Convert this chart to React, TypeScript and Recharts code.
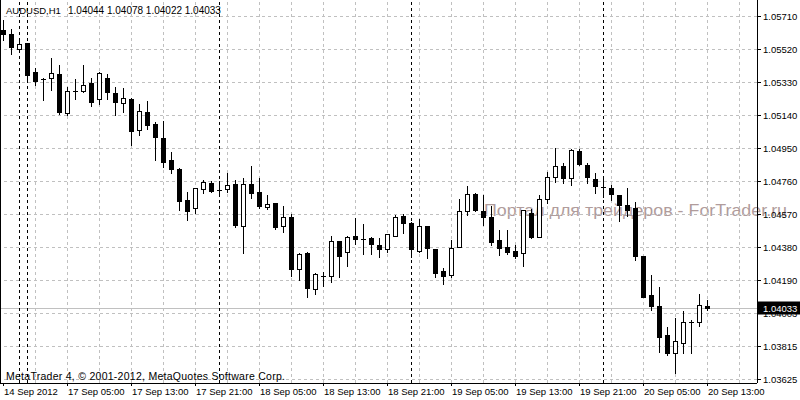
import React from 'react';
import { ComposedChart, Bar, XAxis, YAxis, ReferenceLine } from 'recharts';

// ---- data (AUDUSD H1) ----
const opens: number[] = [
  1.05631, 1.05608, 1.05522, 1.05554, 1.05390, 1.05350, 1.05356, 1.05379, 1.05155, 1.05278,
  1.05281, 1.05327, 1.05235, 1.05356, 1.05269, 1.05212, 1.05235, 1.05057, 1.05160, 1.05091,
  1.05011, 1.04885, 1.04833, 1.04655, 1.04609, 1.04718, 1.04753, 1.04715, 1.04718, 1.04747,
  1.04506, 1.04747, 1.04701, 1.04615, 1.04638, 1.04506, 1.04557, 1.04259, 1.04350, 1.04144,
  1.04218, 1.04218, 1.04419, 1.04356, 1.04448, 1.04431, 1.04437, 1.04396, 1.04373, 1.04448,
  1.04563, 1.04523, 1.04362, 1.04506, 1.04373, 1.04247, 1.04224, 1.04385, 1.04592, 1.04689,
  1.04592, 1.04557, 1.04425, 1.04385, 1.04362, 1.04350, 1.04580, 1.04442, 1.04661, 1.04787,
  1.04850, 1.04781, 1.04936, 1.04856, 1.04776, 1.04730, 1.04724, 1.04684, 1.04626, 1.04609,
  1.04333, 1.04109, 1.04046, 1.03879, 1.03776, 1.03834, 1.03952, 1.03954, 1.04044,
];
const highs: number[] = [
  1.05689, 1.05637, 1.05585, 1.05557, 1.05413, 1.05356, 1.05470, 1.05430, 1.05304, 1.05350,
  1.05430, 1.05356, 1.05390, 1.05379, 1.05304, 1.05298, 1.05241, 1.05206, 1.05223, 1.05103,
  1.05109, 1.04931, 1.04836, 1.04701, 1.04726, 1.04770, 1.04764, 1.04764, 1.04810, 1.04770,
  1.04781, 1.04850, 1.04781, 1.04684, 1.04640, 1.04620, 1.04574, 1.04350, 1.04356, 1.04236,
  1.04241, 1.04448, 1.04422, 1.04448, 1.04551, 1.04517, 1.04442, 1.04437, 1.04462, 1.04569,
  1.04574, 1.04526, 1.04546, 1.04508, 1.04376, 1.04264, 1.04425, 1.04661, 1.04735, 1.04695,
  1.04684, 1.04620, 1.04483, 1.04483, 1.04396, 1.04600, 1.04603, 1.04684, 1.04816, 1.04954,
  1.04867, 1.04945, 1.04948, 1.04867, 1.04810, 1.04787, 1.04741, 1.04686, 1.04724, 1.04643,
  1.04336, 1.04224, 1.04155, 1.03925, 1.03977, 1.04017, 1.03966, 1.04115, 1.04078,
];
const lows: number[] = [
  1.05574, 1.05493, 1.05505, 1.05338, 1.05315, 1.05229, 1.05287, 1.05149, 1.05143, 1.05235,
  1.05275, 1.05195, 1.05206, 1.05235, 1.05143, 1.05160, 1.04971, 1.05028, 1.05063, 1.04885,
  1.04844, 1.04810, 1.04597, 1.04540, 1.04580, 1.04695, 1.04701, 1.04695, 1.04701, 1.04500,
  1.04350, 1.04666, 1.04609, 1.04603, 1.04488, 1.04471, 1.04218, 1.04195, 1.04098, 1.04115,
  1.04161, 1.04184, 1.04213, 1.04276, 1.04402, 1.04345, 1.04345, 1.04327, 1.04356, 1.04446,
  1.04465, 1.04327, 1.04359, 1.04322, 1.04213, 1.04172, 1.04213, 1.04382, 1.04569, 1.04592,
  1.04511, 1.04396, 1.04339, 1.04345, 1.04322, 1.04276, 1.04437, 1.04440, 1.04638, 1.04758,
  1.04753, 1.04741, 1.04856, 1.04753, 1.04695, 1.04672, 1.04655, 1.04534, 1.04563, 1.04310,
  1.04096, 1.04023, 1.03782, 1.03765, 1.03661, 1.03776, 1.03776, 1.03931, 1.04022,
];
const closes: number[] = [
  1.05608, 1.05534, 1.05551, 1.05373, 1.05338, 1.05347, 1.05384, 1.05160, 1.05281, 1.05281,
  1.05315, 1.05218, 1.05384, 1.05275, 1.05218, 1.05241, 1.05051, 1.05166, 1.05086, 1.05017,
  1.04873, 1.04833, 1.04649, 1.04592, 1.04724, 1.04758, 1.04707, 1.04712, 1.04741, 1.04511,
  1.04747, 1.04695, 1.04620, 1.04632, 1.04500, 1.04557, 1.04259, 1.04345, 1.04149, 1.04230,
  1.04221, 1.04419, 1.04333, 1.04442, 1.04431, 1.04428, 1.04402, 1.04373, 1.04460, 1.04557,
  1.04523, 1.04373, 1.04506, 1.04379, 1.04236, 1.04218, 1.04379, 1.04592, 1.04689, 1.04597,
  1.04557, 1.04414, 1.04379, 1.04356, 1.04333, 1.04597, 1.04442, 1.04661, 1.04787, 1.04850,
  1.04781, 1.04942, 1.04862, 1.04787, 1.04735, 1.04727, 1.04689, 1.04626, 1.04597, 1.04333,
  1.04098, 1.04046, 1.03868, 1.03776, 1.03845, 1.03954, 1.03955, 1.04052, 1.04033,
];

const timeLabelIdx: number[] = [0, 8, 16, 24, 32, 40, 48, 56, 64, 72, 80, 88];
const timeLabels: string[] = [
  '14 Sep 2012', '17 Sep 05:00', '17 Sep 13:00', '17 Sep 21:00', '18 Sep 05:00', '18 Sep 13:00',
  '18 Sep 21:00', '19 Sep 05:00', '19 Sep 13:00', '19 Sep 21:00', '20 Sep 05:00', '20 Sep 13:00',
];
const gridIdx: number[] = [4, 8, 12, 16, 20, 24, 28, 32, 36, 40, 44, 48, 52, 56, 60, 64, 68, 72, 76, 80, 84, 88, 92];
const separatorIdx: number[] = [2, 3, 27, 51, 75];
const priceTicks: number[] = [
  1.05710, 1.05520, 1.05330, 1.05140, 1.04950, 1.04760, 1.04570, 1.04380, 1.04190, 1.04003, 1.03815, 1.03625,
];
const currentPrice = 1.04033;
const priceDomain: [number, number] = [1.036037, 1.058036];
const emptySlots = 5;

const rows = Array.from({ length: opens.length + emptySlots }, (_, i) =>
  i < opens.length
    ? { t: i, range: [lows[i], highs[i]], o: opens[i], h: highs[i], l: lows[i], c: closes[i] }
    : { t: i, range: null, o: null, h: null, l: null, c: null }
);

const FONT = 'Liberation Sans, Arial, sans-serif';

const Candle = (props: any) => {
  const { x, y, width, height, payload } = props;
  if (!payload || payload.o == null || !isFinite(height)) return null;
  const { o, h, l, c } = payload;
  const top = Math.min(y, y + height);
  const k = Math.abs(height) / (h - l);
  const py = (v: number) => top + (h - v) * k;
  const cx = Math.round(x + width / 2);
  const yH = Math.round(py(h));
  const yL = Math.round(py(l));
  const rawTop = py(Math.max(o, c));
  const rawBot = py(Math.min(o, c));
  const yBt = Math.round(rawTop);
  const yBb = Math.round(rawBot);
  const up = c > o;
  let body: React.ReactNode;
  if (rawBot - rawTop < 1) {
    body = <line x1={cx - 2} x2={cx + 3} y1={yBt + 0.5} y2={yBt + 0.5} stroke="#000" strokeWidth={1} />;
  } else if (up) {
    body = <rect x={cx - 1.5} y={yBt + 0.5} width={4} height={Math.max(1, yBb - yBt)} fill="#fff" stroke="#000" strokeWidth={1} />;
  } else {
    body = <rect x={cx - 2} y={yBt} width={5} height={Math.max(1, yBb - yBt + 1)} fill="#000" />;
  }
  return (
    <g>
      <line x1={cx + 0.5} x2={cx + 0.5} y1={yH} y2={yL + 1} stroke="#000" strokeWidth={1} />
      {body}
    </g>
  );
};

const NoShape = () => null;

const TimeTick = (props: any) => {
  const { x, y, payload } = props;
  const i = timeLabelIdx.indexOf(Number(payload.value));
  if (i < 0) return null;
  return (
    <text x={x + 1} y={y + 7} fontSize={9.5} fontFamily={FONT} fill="#000" textAnchor="start">
      {timeLabels[i]}
    </text>
  );
};

const PriceTick = (props: any) => {
  const { x, y, payload } = props;
  const v = Number(payload.value);
  if (v === currentPrice) {
    return (
      <g>
        <rect x={x - 5} y={Math.round(y) - 6.5} width={43} height={13} fill="#000" />
        <text x={x} y={y + 3.5} fontSize={9.5} fontFamily={FONT} fill="#fff" textAnchor="start">
          {v.toFixed(5)}
        </text>
      </g>
    );
  }
  return (
    <text x={x} y={y + 3.5} fontSize={9.5} fontFamily={FONT} fill="#000" textAnchor="start">
      {v.toFixed(5)}
    </text>
  );
};

const chartMargin = { top: 0, right: 0, bottom: 0, left: -1 };

function axes(visible: boolean) {
  const line = visible ? { stroke: '#000', shapeRendering: 'crispEdges' } : false;
  return [
    <XAxis
      key="x"
      dataKey="t"
      type="category"
      ticks={timeLabelIdx}
      interval={0}
      height={17}
      padding={{ left: 0, right: 6 }}
      tickSize={3}
      tickLine={line as any}
      axisLine={line as any}
      tick={visible ? <TimeTick /> : false}
    />,
    <YAxis
      key="y"
      orientation="right"
      type="number"
      width={43}
      domain={priceDomain}
      allowDataOverflow
      ticks={[...priceTicks, currentPrice]}
      interval={0}
      tickSize={4}
      tickLine={line as any}
      axisLine={line as any}
      tick={visible ? <PriceTick /> : false}
    />,
  ];
}

export default function App() {
  return (
    <div style={{ position: 'absolute', left: 0, top: 0, width: 800, height: 400, background: '#fff', overflow: 'hidden' }}>
      {/* watermark */}
      <svg width={800} height={400} style={{ position: 'absolute', left: 0, top: 0 }}>
        <text x={484} y={216} fontSize={17} fontFamily={FONT} fill="#b09c9c" textLength={303} lengthAdjust="spacingAndGlyphs">
          Портал для трейдеров - ForTrader.ru
        </text>
      </svg>
      {/* grid layer */}
      <div style={{ position: 'absolute', left: 0, top: 0 }}>
        <ComposedChart width={800} height={400} data={rows} margin={chartMargin}>
          {axes(false)}
          {priceTicks.map((p) => (
            <ReferenceLine key={'h' + p} y={p} stroke="#c0c0c0" strokeDasharray="3 3" shapeRendering="crispEdges" />
          ))}
          {gridIdx.map((k) => (
            <ReferenceLine key={'v' + k} x={k} stroke="#c0c0c0" strokeDasharray="3 3" shapeRendering="crispEdges" />
          ))}
          <ReferenceLine y={currentPrice} stroke="#c0c0c0" shapeRendering="crispEdges" />
          {separatorIdx.map((k) => (
            <ReferenceLine key={'s' + k} x={k} stroke="#000" strokeDasharray="3 3" shapeRendering="crispEdges" />
          ))}
          <Bar dataKey="range" shape={<NoShape />} isAnimationActive={false} />
        </ComposedChart>
      </div>
      {/* candles + axes layer */}
      <div style={{ position: 'absolute', left: 0, top: 0 }}>
        <ComposedChart width={800} height={400} data={rows} margin={chartMargin}>
          {axes(true)}
          <Bar dataKey="range" shape={<Candle />} isAnimationActive={false} />
        </ComposedChart>
      </div>
      <svg width={800} height={400} style={{ position: 'absolute', left: 0, top: 0, pointerEvents: 'none' }}>
        <line x1={0.5} x2={0.5} y1={0} y2={383} stroke="#000" strokeWidth={1} />
        <text x={6} y={14} fontSize={9.5} fontFamily={FONT} fill="#000">AUDUSD,H1</text>
        <text x={68} y={14} fontSize={10} fontFamily={FONT} fill="#000">1.04044 1.04078 1.04022 1.04033</text>
        <text x={6} y={379.5} fontSize={10.5} fontFamily={FONT} fill="#000" textLength={279} lengthAdjust="spacing">
          MetaTrader 4, © 2001-2012, MetaQuotes Software Corp.
        </text>
      </svg>
    </div>
  );
}
